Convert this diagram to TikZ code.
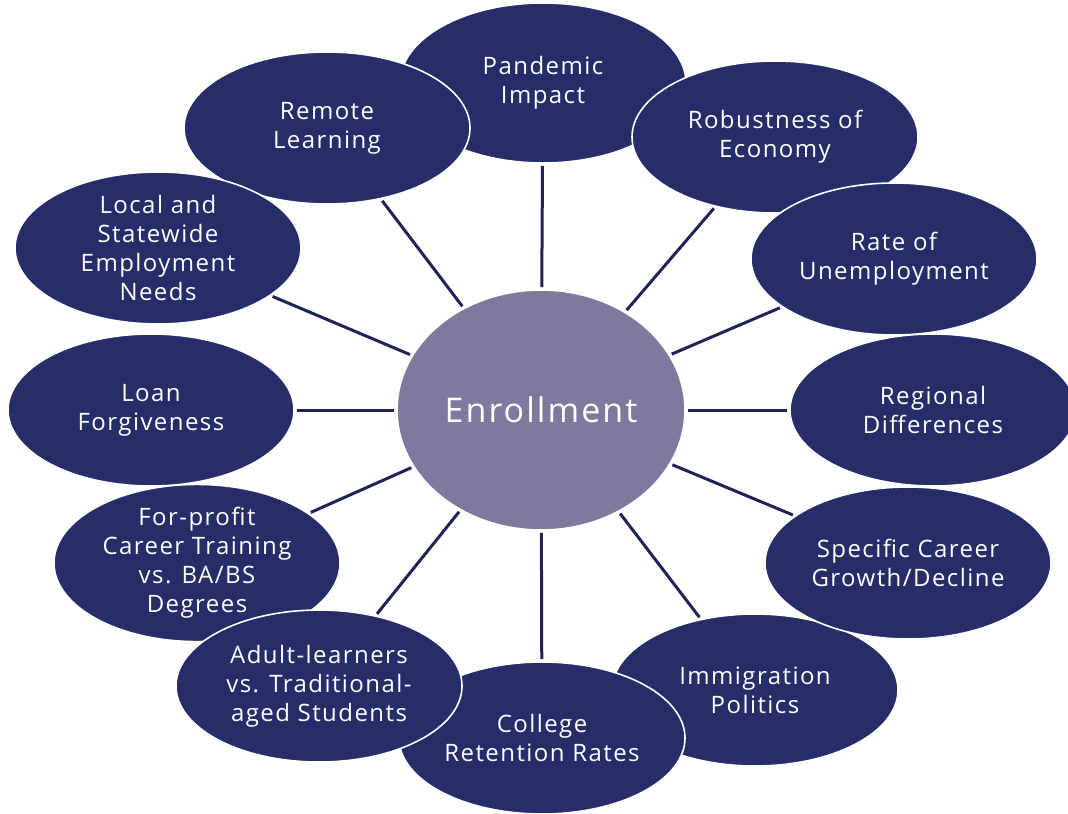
\documentclass[tikz,border=0pt]{standalone}
\usepackage{fontspec}
\setmainfont[LetterSpace=6]{Open Sans}
\usepackage{xcolor}
\usepackage{tikz}
\usetikzlibrary{shapes.geometric}

\definecolor{navy}{HTML}{262D69}
\definecolor{hub}{HTML}{7F799E}
\definecolor{spoke}{HTML}{1F2457}

\begin{document}
\begin{tikzpicture}[
			x = .5pt, y = -.5pt,
			factor/.style = {ellipse, fill=navy, draw=white, line width=.8pt, text=white, align=center,
				inner sep=0pt, minimum width=143pt, minimum height=76pt,
				font=\fontsize{12}{14.5}\selectfont},
			link/.style = {spoke, line width=1.5pt, shorten <=1pt, shorten >=1pt}
		]

			\useasboundingbox (0,0) rectangle (1068,813);

			\node[factor, minimum height=80pt] (pan) at (543,83) {Pandemic\\Impact};
			\node[factor] (imm) at (755,690) {Immigration\\Politics};
			\node[factor] (rob) at (775,137) {Robustness of\\Economy};
			\node[factor] (rate) at (894,259) {Rate of\\Unemployment};
			\node[factor] (reg) at (933,410) {Regional\\Differences};
			\node[factor] (spec) at (908,563) {Specific Career\\Growth/Decline};
			\node[factor] (coll) at (542,738) {College\\Retention Rates};
			\node[factor] (forp) at (197,563) {For-profit\\Career Training\\vs. BA/BS\\Degrees};
			\node[factor] (adult) at (319,686) {Adult-learners\\vs. Traditional-\\aged Students};
			\node[factor] (remote) at (327,128) {Remote\\Learning};
			\node[factor] (local) at (158,248) {Local and\\Statewide\\Employment\\Needs};
			\node[factor] (loan) at (151,410) {Loan\\Forgiveness};

			\node[ellipse, fill=hub, draw=white, line width=.8pt, text=white, inner sep=0pt,
				minimum width=144pt, minimum height=120pt, font=\fontsize{17}{20}\selectfont]
				(enr) at (541,410) {Enrollment};

			\foreach \f in {pan,rob,rate,reg,spec,imm,coll,adult,forp,loan,local,remote}
				\draw[link] (enr) -- (\f);

		\end{tikzpicture}
\end{document}
